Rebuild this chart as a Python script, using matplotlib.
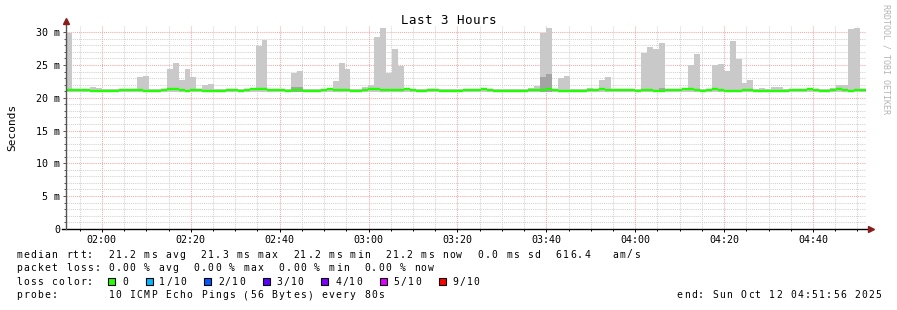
import matplotlib
matplotlib.use("Agg")
import matplotlib.pyplot as plt
from matplotlib.patches import Rectangle
from matplotlib.lines import Line2D
from matplotlib.ticker import MultipleLocator, FuncFormatter
import numpy as np

# --- data (ms), one value per 80 s step, 01:51:56 .. 04:51:56 ---
start_min = 111 + 56 / 60.0     # 01:51:56 in minutes after midnight
step_min = 80 / 60.0
span_min = 180

median = [
    21.15, 21.15, 21.15, 21.15, 21.0, 21.0, 21.0, 21.0, 21.0, 21.15, 21.15, 21.15, 21.15, 21.0, 21.0,
    21.0, 21.15, 21.35, 21.35, 21.15, 21.0, 21.15, 21.15, 21.0, 21.0, 21.0, 21.0, 21.15, 21.15, 21.0,
    21.15, 21.35, 21.35, 21.35, 21.15, 21.15, 21.15, 21.0, 21.15, 21.15, 21.0, 21.0, 21.0, 21.15, 21.35,
    21.15, 21.15, 21.15, 21.0, 21.0, 21.15, 21.35, 21.35, 21.15, 21.15, 21.15, 21.15, 21.35, 21.15, 21.0,
    21.0, 21.15, 21.15, 21.0, 21.0, 21.0, 21.0, 21.15, 21.15, 21.15, 21.35, 21.15, 21.0, 21.0, 21.0,
    21.0, 21.0, 21.0, 21.15, 21.15, 21.15, 21.35, 21.15, 21.0, 21.0, 21.0, 21.0, 21.0, 21.15, 21.15,
    21.35, 21.15, 21.15, 21.15, 21.15, 21.15, 21.0, 21.15, 21.15, 21.0, 21.0, 21.15, 21.15, 21.15, 21.35,
    21.35, 21.15, 21.0, 21.15, 21.35, 21.15, 21.0, 21.0, 21.0, 21.15, 21.15, 21.0, 21.0, 21.0, 21.0,
    21.0, 21.0, 21.15, 21.15, 21.15, 21.35, 21.15, 21.0, 21.0, 21.15, 21.35, 21.15, 21.0, 21.15, 21.15,
]

smoke_max = [
    29.9, 21.3, 21.3, 21.4, 21.6, 21.5, 21.3, 21.3, 21.3, 21.3, 21.3, 21.3, 23.2, 23.3, 21.3,
    21.3, 21.4, 24.4, 25.3, 22.7, 24.4, 23.2, 21.3, 21.95, 22.1, 21.3, 21.3, 21.3, 21.3, 21.3,
    21.3, 21.3, 27.9, 28.8, 21.3, 21.3, 21.3, 21.3, 23.8, 24.1, 21.3, 21.3, 21.3, 21.3, 21.4,
    22.6, 25.3, 24.4, 21.3, 21.3, 21.6, 21.9, 29.3, 30.65, 23.8, 27.45, 24.9, 21.4, 21.3, 21.3,
    21.3, 21.3, 21.3, 21.3, 21.3, 21.3, 21.3, 21.3, 21.3, 21.3, 21.4, 21.3, 21.3, 21.3, 21.3,
    21.3, 21.3, 21.3, 21.5, 21.8, 29.9, 30.65, 21.3, 23.0, 23.3, 21.3, 21.3, 21.3, 21.5, 21.3,
    22.7, 23.2, 21.3, 21.3, 21.3, 21.3, 21.3, 26.9, 27.8, 27.45, 28.35, 21.3, 21.3, 21.3, 21.5,
    25.0, 26.7, 21.3, 21.3, 25.0, 25.15, 24.1, 28.65, 25.9, 22.25, 22.7, 21.3, 21.5, 21.3, 21.6,
    21.6, 21.3, 21.3, 21.3, 21.3, 21.4, 21.3, 21.3, 21.3, 21.5, 21.9, 21.9, 30.5, 30.65, 21.3,
]
smoke_floor = 20.95
dark_steps = [38, 39, 80, 81, 100]
dark_top = [21.65, 21.65, 23.2, 23.6, 21.45]

row1 = "median rtt:  21.2 ms avg  21.3 ms max  21.2 ms min  21.2 ms now  0.0 ms sd  616.4   am/s"
row2 = "packet loss: 0.00 % avg  0.00 % max  0.00 % min  0.00 % now"
row4 = "probe:       10 ICMP Echo Pings (56 Bytes) every 80s"
end_text = "end: Sun Oct 12 04:51:56 2025"
loss_labels = ["0", "1/10", "2/10", "3/10", "4/10", "5/10", "9/10"]
loss_colors = ["#26ff00", "#00b8ff", "#0059ff", "#5e00ff", "#7e00ff", "#dd00ff", "#ff0000"]

W, H = 897, 310
MONO = "DejaVu Sans Mono"

fig = plt.figure(figsize=(W / 100, H / 100), dpi=100)
fig.patch.set_facecolor("white")

y0, ytop = 228.7, 26.0
ax = fig.add_axes([66 / W, (H - y0) / H, 800 / W, (y0 - ytop) / H])
ymax = (y0 - ytop) / ((y0 - 32.3) / 30.0)
ax.set_xlim(start_min, start_min + span_min)
ax.set_ylim(0, ymax)

n = len(median)
lefts = start_min + np.arange(n) * step_min
smax = np.array(smoke_max)
ax.bar(lefts, smax - smoke_floor, bottom=smoke_floor, width=step_min, align="edge",
       color="#c9c9c9", linewidth=0, zorder=2)
ax.bar(lefts[dark_steps], np.array(dark_top) - smoke_floor, bottom=smoke_floor,
       width=step_min, align="edge", color="#a4a4a4", linewidth=0, zorder=2)

# median: one flat segment per step, no vertical joins
ax.hlines(median, lefts, lefts + step_min, color="#20ff00", lw=1.7, zorder=3,
          capstyle="butt")

# grid
for v in np.arange(1, 31):
    if v % 5:
        ax.axhline(v, color="#d2d2d2", lw=0.75, ls=(0, (1, 1)), zorder=1)
for v in range(5, 31, 5):
    ax.axhline(v, color="#f2a8a8", lw=0.75, ls=(0, (1, 1)), zorder=1)
for m in np.arange(115, 295, 5):
    if m % 20:
        ax.axvline(m, color="#d2d2d2", lw=0.75, ls=(0, (1, 1)), zorder=1)
for m in range(120, 295, 20):
    ax.axvline(m, color="#f2a8a8", lw=0.75, ls=(0, (1, 1)), zorder=1)

for s in ax.spines.values():
    s.set_visible(False)

ax.yaxis.set_major_locator(MultipleLocator(5))
ax.yaxis.set_minor_locator(MultipleLocator(1))
ax.yaxis.set_major_formatter(FuncFormatter(lambda v, p: "0" if v == 0 else "%d m" % v))
ax.xaxis.set_major_locator(MultipleLocator(20))
ax.xaxis.set_minor_locator(MultipleLocator(5))
ax.xaxis.set_major_formatter(FuncFormatter(lambda v, p: "%02d:%02d" % (int(v) // 60, int(v) % 60)))
ax.tick_params(axis="y", which="major", length=2.2, width=0.7, pad=2.2, labelsize=7.2, color="#555555")
ax.tick_params(axis="y", which="minor", length=1.2, width=0.7, color="#555555")
ax.tick_params(axis="x", which="major", length=2.2, width=0.7, pad=2.5, labelsize=7.2)
ax.tick_params(axis="x", which="minor", length=1.2, width=0.7)
for lab in ax.get_xticklabels() + ax.get_yticklabels():
    lab.set_family(MONO)

# axes lines with arrows
ax.add_line(Line2D([-0.005, 1.004], [0, 0], transform=ax.transAxes, color="black",
                   lw=1.0, clip_on=False, zorder=5))
ax.add_line(Line2D([0, 0], [0, 1.02], transform=ax.transAxes, color="#555555",
                   lw=1.0, clip_on=False, zorder=5))
ax.plot([1.006], [0], marker=">", ms=4, color="#8b1c1c", transform=ax.transAxes, clip_on=False, zorder=6)
ax.plot([0], [1.027], marker="^", ms=4, color="#8b1c1c", transform=ax.transAxes, clip_on=False, zorder=6)


def mono(x, y, s, size=7.0, cw=7.1, color="black"):
    # place every character on a fixed pixel grid, like the rrdtool legend
    for k, ch in enumerate(s):
        if ch != " ":
            fig.text((x + (k + 0.5) * cw) / W, 1 - y / H, ch, fontsize=size, family=MONO,
                     ha="center", va="baseline", color=color)


mono(400, 24, "Last 3 Hours", size=9, cw=8.0)
fig.text(12 / W, 1 - 127 / H, "Seconds", rotation=90, fontsize=8, family=MONO,
         ha="center", va="center")
fig.text(886 / W, 1 - 4 / H, "RRDTOOL / TOBI OETIKER", rotation=270, fontsize=6,
         family=MONO, ha="center", va="top", color="#b4b4b4")

lx = 15.5
mono(lx, 257.5, row1)
mono(lx, 271, row2)
mono(lx, 284.7, "loss color:")
mono(lx, 298.3, row4)
mono(882 - len(end_text) * 7.1, 298.3, end_text)

sx = 108.3
for lab, col in zip(loss_labels, loss_colors):
    fig.add_artist(Rectangle((sx / W, 1 - 284.7 / H), 7 / W, 7 / H, transform=fig.transFigure,
                             facecolor=col, edgecolor="black", lw=0.8))
    tx = sx + 13.5
    mono(tx - 0.5, 284.7, lab)
    sx = tx + len(lab) * 7.1 + 16.7

fig.savefig("out.png", dpi=100, facecolor="white")
